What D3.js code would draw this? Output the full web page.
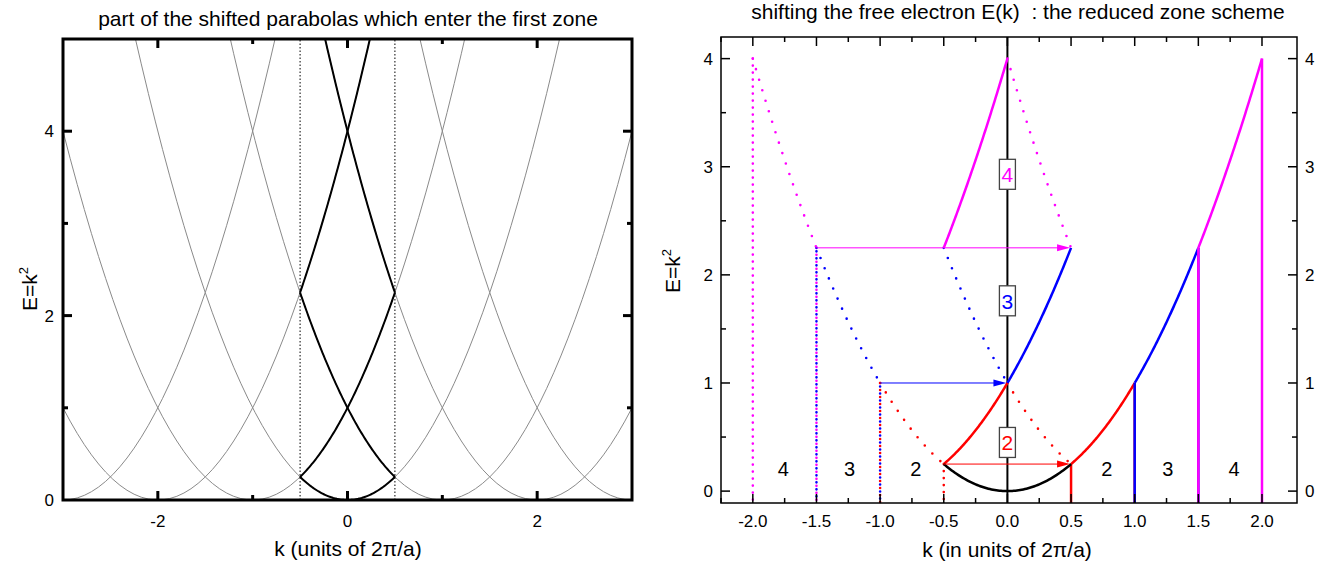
<!DOCTYPE html>
<html>
<head>
<meta charset="utf-8">
<script src="https://cdn.jsdelivr.net/npm/d3@7"></script>
<style>
	body { margin: 0; background: #fff; }
	svg { display: block; font-family: 'Liberation Sans', Arial, sans-serif; }
</style>
</head>
<body>
<script>

// ---- left panel: shifted parabolas E = (k - G)^2
var leftShifts = [ -3, -2, -1, 0, 1, 2, 3 ];
var firstZoneShifts = [ -2, -1, 0, 1, 2 ];
var firstZoneEdges = [ -0.5, 0.5 ];
var leftXTicks = [ -2, 0, 2 ];
var leftXMinor = [ -1, 1 ];
var leftYTicks = [ 0, 2, 4 ];
var leftYMinor = [ 1, 3 ];

// ---- right panel: reduced zone scheme, one entry per band
var bandNames = [ '2', '3', '4' ];
var bandColors = [ '#ff0000', '#0000ff', '#ff00ff' ];
var bandInner = [ 0.5, 1, 1.5 ];
var bandOuter = [ 1, 1.5, 2 ];
var bandShift = [ 1, 1, 2 ];
var bandBoxE = [ 0.45, 1.76, 2.93 ];
var zoneLabels = [ '4', '3', '2', '2', '3', '4' ];
var zoneLabelK = [ -1.76, -1.24, -0.72, 0.78, 1.26, 1.78 ];
var zoneLabelE = 0.2;
var rightXTicks = [ -2, -1.5, -1, -0.5, 0, 0.5, 1, 1.5, 2 ];
var rightXMinor = [ -2.25, -1.75, -1.25, -0.75, -0.25, 0.25, 0.75, 1.25, 1.75 ];
var rightYTicks = [ 0, 1, 2, 3, 4 ];
var rightYMinor = [ 0.5, 1.5, 2.5, 3.5 ];

var width = 1320;
var height = 568;

var els = {};

els.svg = d3.select( 'body' ).append( 'svg' )
	.attr( 'width', width )
	.attr( 'height', height );

var defs = els.svg.append( 'defs' );

var scales = {};

scales.lx = d3.scaleLinear().domain( [ -3, 3 ] ).range( [ 63, 632 ] );
scales.ly = d3.scaleLinear().domain( [ 0, 5 ] ).range( [ 500, 39 ] );
scales.rx = d3.scaleLinear().domain( [ -2.25, 2.275 ] ).range( [ 721, 1297 ] );
scales.ry = d3.scaleLinear().domain( [ -0.11, 4.2 ] ).range( [ 503, 37 ] );

var parabola = function ( shift, k0, k1 ) {
	var n = 80;
	return d3.range( n + 1 ).map( function ( i ) {
		var k = k0 + ( k1 - k0 ) * i / n;
		return { k: k, e: ( k - shift ) * ( k - shift ) };
	} );
};

var lineL = d3.line()
	.x( function ( d ) { return scales.lx( d.k ); } )
	.y( function ( d ) { return scales.ly( d.e ); } );

var lineR = d3.line()
	.x( function ( d ) { return scales.rx( d.k ); } )
	.y( function ( d ) { return scales.ry( d.e ); } );

// ================= left panel =================

defs.append( 'clipPath' ).attr( 'id', 'clip-left' )
	.append( 'rect' )
	.attr( 'x', scales.lx( -3 ) )
	.attr( 'y', scales.ly( 5 ) )
	.attr( 'width', scales.lx( 3 ) - scales.lx( -3 ) )
	.attr( 'height', scales.ly( 0 ) - scales.ly( 5 ) );

els.left = els.svg.append( 'g' ).attr( 'id', 'left' );

var leftPlot = els.left.append( 'g' ).attr( 'clip-path', 'url(#clip-left)' );

leftPlot.selectAll( '.gray' )
	.data( leftShifts )
	.enter()
	.append( 'path' )
	.classed( 'gray', true )
	.attr( 'd', function ( g ) { return lineL( parabola( g, -3, 3 ) ); } )
	.style( 'fill', 'none' )
	.style( 'stroke', '#8a8a8a' )
	.style( 'stroke-width', 1 );

leftPlot.selectAll( '.edge' )
	.data( firstZoneEdges )
	.enter()
	.append( 'line' )
	.classed( 'edge', true )
	.attr( 'x1', function ( d ) { return scales.lx( d ); } )
	.attr( 'x2', function ( d ) { return scales.lx( d ); } )
	.attr( 'y1', scales.ly( 0 ) )
	.attr( 'y2', scales.ly( 5 ) )
	.style( 'stroke', '#000' )
	.style( 'stroke-width', 1 )
	.style( 'stroke-dasharray', '1.5 2' );

leftPlot.selectAll( '.black' )
	.data( firstZoneShifts )
	.enter()
	.append( 'path' )
	.classed( 'black', true )
	.attr( 'd', function ( g ) { return lineL( parabola( g, -0.5, 0.5 ) ); } )
	.style( 'fill', 'none' )
	.style( 'stroke', '#000' )
	.style( 'stroke-width', 2 );

// frame
els.left.append( 'rect' )
	.attr( 'x', scales.lx( -3 ) )
	.attr( 'y', scales.ly( 5 ) )
	.attr( 'width', scales.lx( 3 ) - scales.lx( -3 ) )
	.attr( 'height', scales.ly( 0 ) - scales.ly( 5 ) )
	.style( 'fill', 'none' )
	.style( 'stroke', '#000' )
	.style( 'stroke-width', 3 );

var ticksL = els.left.append( 'g' ).style( 'stroke', '#000' ).style( 'stroke-width', 3 );

var addXTicks = function ( sel, scale, values, y0, y1, len ) {
	values.forEach( function ( v ) {
		sel.append( 'line' )
			.attr( 'x1', scale( v ) ).attr( 'x2', scale( v ) )
			.attr( 'y1', y0 ).attr( 'y2', y0 - len );
		sel.append( 'line' )
			.attr( 'x1', scale( v ) ).attr( 'x2', scale( v ) )
			.attr( 'y1', y1 ).attr( 'y2', y1 + len );
	} );
};

var addYTicks = function ( sel, scale, values, x0, x1, len ) {
	values.forEach( function ( v ) {
		sel.append( 'line' )
			.attr( 'y1', scale( v ) ).attr( 'y2', scale( v ) )
			.attr( 'x1', x0 ).attr( 'x2', x0 + len );
		sel.append( 'line' )
			.attr( 'y1', scale( v ) ).attr( 'y2', scale( v ) )
			.attr( 'x1', x1 ).attr( 'x2', x1 - len );
	} );
};

addXTicks( ticksL, scales.lx, leftXTicks, scales.ly( 0 ), scales.ly( 5 ), 9 );
addXTicks( ticksL, scales.lx, leftXMinor, scales.ly( 0 ), scales.ly( 5 ), 5 );
addYTicks( ticksL, scales.ly, leftYTicks.slice( 1 ), scales.lx( -3 ), scales.lx( 3 ), 9 );
addYTicks( ticksL, scales.ly, leftYMinor, scales.lx( -3 ), scales.lx( 3 ), 5 );

els.left.selectAll( '.xlab' )
	.data( leftXTicks )
	.enter()
	.append( 'text' )
	.attr( 'x', function ( d ) { return scales.lx( d ); } )
	.attr( 'y', 527 )
	.attr( 'text-anchor', 'middle' )
	.style( 'font-size', '17px' )
	.text( function ( d ) { return d; } );

els.left.selectAll( '.ylab' )
	.data( leftYTicks )
	.enter()
	.append( 'text' )
	.attr( 'x', 54 )
	.attr( 'y', function ( d ) { return scales.ly( d ) + 6; } )
	.attr( 'text-anchor', 'end' )
	.style( 'font-size', '17px' )
	.text( function ( d ) { return d; } );

els.left.append( 'text' )
	.attr( 'x', 348 ).attr( 'y', 26 )
	.attr( 'text-anchor', 'middle' )
	.style( 'font-size', '21px' )
	.text( 'part of the shifted parabolas which enter the first zone' );

els.left.append( 'text' )
	.attr( 'x', 348 ).attr( 'y', 556 )
	.attr( 'text-anchor', 'middle' )
	.style( 'font-size', '21px' )
	.text( 'k (units of 2\u03c0/a)' );

var eLabel = function ( sel, x, y ) {
	var t = sel.append( 'text' )
		.attr( 'transform', 'translate(' + x + ',' + y + ') rotate(-90)' )
		.attr( 'text-anchor', 'middle' )
		.style( 'font-size', '21px' );
	t.append( 'tspan' ).text( 'E=k' );
	t.append( 'tspan' ).attr( 'dy', -9 ).style( 'font-size', '13px' ).text( '2' );
};

eLabel( els.left, 37, 289 );

// ================= right panel =================

els.right = els.svg.append( 'g' ).attr( 'id', 'right' );

var bottomE = scales.ry.domain()[0];

// axis line through k = 0
els.right.append( 'line' )
	.attr( 'x1', scales.rx( 0 ) ).attr( 'x2', scales.rx( 0 ) )
	.attr( 'y1', scales.ry.range()[0] ).attr( 'y2', scales.ry.range()[1] )
	.style( 'stroke', '#000' )
	.style( 'stroke-width', 2 );

var bands = bandNames.map( function ( name, i ) {
	return {
		name: name,
		color: bandColors[i],
		a: bandInner[i],
		b: bandOuter[i],
		g: bandShift[i],
		boxE: bandBoxE[i]
	};
} );

var dotted = function ( sel, color, pts, gap, offset ) {
	return sel.append( 'path' )
		.attr( 'd', lineR( pts ) )
		.style( 'fill', 'none' )
		.style( 'stroke', color )
		.style( 'stroke-width', 2.6 )
		.style( 'stroke-linecap', 'round' )
		.style( 'stroke-dasharray', '0 ' + gap )
		.style( 'stroke-dashoffset', offset || 0 );
};

var solid = function ( sel, color, pts ) {
	return sel.append( 'path' )
		.attr( 'd', lineR( pts ) )
		.style( 'fill', 'none' )
		.style( 'stroke', color )
		.style( 'stroke-width', 2.5 );
};

var vert = function ( k ) {
	return [ { k: k, e: k * k }, { k: k, e: bottomE } ];
};

// dotted verticals first (so pairs interleave)
bands.forEach( function ( b, i ) {
	var grp = els.right.append( 'g' );
	dotted( grp, b.color, vert( -b.a ), 7, i % 2 ? 3.5 : 0 );
	dotted( grp, b.color, vert( -b.b ), 7, i % 2 ? 3.5 : 0 );
} );

bands.forEach( function ( b ) {
	var grp = els.right.append( 'g' );
	// original position of the band, left side dotted
	dotted( grp, b.color, parabola( 0, -b.b, -b.a ), 11 );
	// shifted copy of the dotted part
	dotted( grp, b.color, parabola( b.g, -b.b + b.g, -b.a + b.g ), 11 );
	// solid original and its shifted copy
	solid( grp, b.color, parabola( 0, b.a, b.b ) );
	solid( grp, b.color, parabola( -b.g, b.a - b.g, b.b - b.g ) );
	solid( grp, b.color, vert( b.a ) );
	solid( grp, b.color, vert( b.b ) );
} );

// free electron parabola inside the first zone
solid( els.right, '#000', parabola( 0, -0.5, 0.5 ) );

// arrows
bands.forEach( function ( b ) {
	var e = b.a * b.a;
	var x0 = scales.rx( -b.a );
	var x1 = scales.rx( -b.a + b.g );
	var y = scales.ry( e );
	els.right.append( 'line' )
		.attr( 'x1', x0 ).attr( 'x2', x1 - 10 )
		.attr( 'y1', y ).attr( 'y2', y )
		.style( 'stroke', b.color )
		.style( 'stroke-width', 1 );
	els.right.append( 'path' )
		.attr( 'd', 'M' + ( x1 - 1 ) + ',' + y + 'L' + ( x1 - 14 ) + ',' + ( y - 3.5 ) + 'L' + ( x1 - 14 ) + ',' + ( y + 3.5 ) + 'Z' )
		.style( 'fill', b.color );
} );

// labelled boxes on the k = 0 axis
bands.forEach( function ( b ) {
	var y = scales.ry( b.boxE );
	var x = scales.rx( 0 );
	els.right.append( 'rect' )
		.attr( 'x', x - 8 ).attr( 'y', y - 15 )
		.attr( 'width', 16 ).attr( 'height', 30 )
		.style( 'fill', '#fff' )
		.style( 'stroke', '#444' )
		.style( 'stroke-width', 1.3 );
	els.right.append( 'text' )
		.attr( 'x', x ).attr( 'y', y + 8 )
		.attr( 'text-anchor', 'middle' )
		.style( 'font-size', '21px' )
		.style( 'fill', b.color )
		.text( b.name );
} );

els.right.selectAll( '.zone' )
	.data( zoneLabels )
	.enter()
	.append( 'text' )
	.attr( 'x', function ( d, i ) { return scales.rx( zoneLabelK[i] ); } )
	.attr( 'y', scales.ry( zoneLabelE ) + 7 )
	.attr( 'text-anchor', 'middle' )
	.style( 'font-size', '20px' )
	.text( function ( d ) { return d; } );

// frame and ticks
els.right.append( 'rect' )
	.attr( 'x', scales.rx.range()[0] )
	.attr( 'y', scales.ry.range()[1] )
	.attr( 'width', scales.rx.range()[1] - scales.rx.range()[0] )
	.attr( 'height', scales.ry.range()[0] - scales.ry.range()[1] )
	.style( 'fill', 'none' )
	.style( 'stroke', '#000' )
	.style( 'stroke-width', 1.5 );

var ticksR = els.right.append( 'g' ).style( 'stroke', '#000' ).style( 'stroke-width', 1.5 );

addXTicks( ticksR, scales.rx, rightXTicks, scales.ry.range()[0], scales.ry.range()[1], 9 );
addXTicks( ticksR, scales.rx, rightXMinor, scales.ry.range()[0], scales.ry.range()[1], 5 );
addYTicks( ticksR, scales.ry, rightYTicks, scales.rx.range()[0], scales.rx.range()[1], 9 );
addYTicks( ticksR, scales.ry, rightYMinor, scales.rx.range()[0], scales.rx.range()[1], 5 );

els.right.selectAll( '.xlab' )
	.data( rightXTicks )
	.enter()
	.append( 'text' )
	.attr( 'x', function ( d ) { return scales.rx( d ); } )
	.attr( 'y', 527 )
	.attr( 'text-anchor', 'middle' )
	.style( 'font-size', '17px' )
	.text( function ( d ) { return d3.format( '.1f' )( d ).replace( '\u2212', '-' ); } );

els.right.selectAll( '.ylab' )
	.data( rightYTicks )
	.enter()
	.append( 'text' )
	.attr( 'x', 713 )
	.attr( 'y', function ( d ) { return scales.ry( d ) + 6; } )
	.attr( 'text-anchor', 'end' )
	.style( 'font-size', '17px' )
	.text( function ( d ) { return d; } );

els.right.selectAll( '.ylab2' )
	.data( rightYTicks )
	.enter()
	.append( 'text' )
	.attr( 'x', 1305 )
	.attr( 'y', function ( d ) { return scales.ry( d ) + 6; } )
	.attr( 'text-anchor', 'start' )
	.style( 'font-size', '17px' )
	.text( function ( d ) { return d; } );

els.right.append( 'text' )
	.attr( 'x', 1018 ).attr( 'y', 19 )
	.attr( 'text-anchor', 'middle' )
	.style( 'font-size', '21px' )
	.style( 'white-space', 'pre' )
	.text( 'shifting the free electron E(k)  : the reduced zone scheme' );

els.right.append( 'text' )
	.attr( 'x', 1007 ).attr( 'y', 557 )
	.attr( 'text-anchor', 'middle' )
	.style( 'font-size', '21px' )
	.text( 'k (in units of 2\u03c0/a)' );

eLabel( els.right, 680, 271 );

</script>
</body>
</html>
